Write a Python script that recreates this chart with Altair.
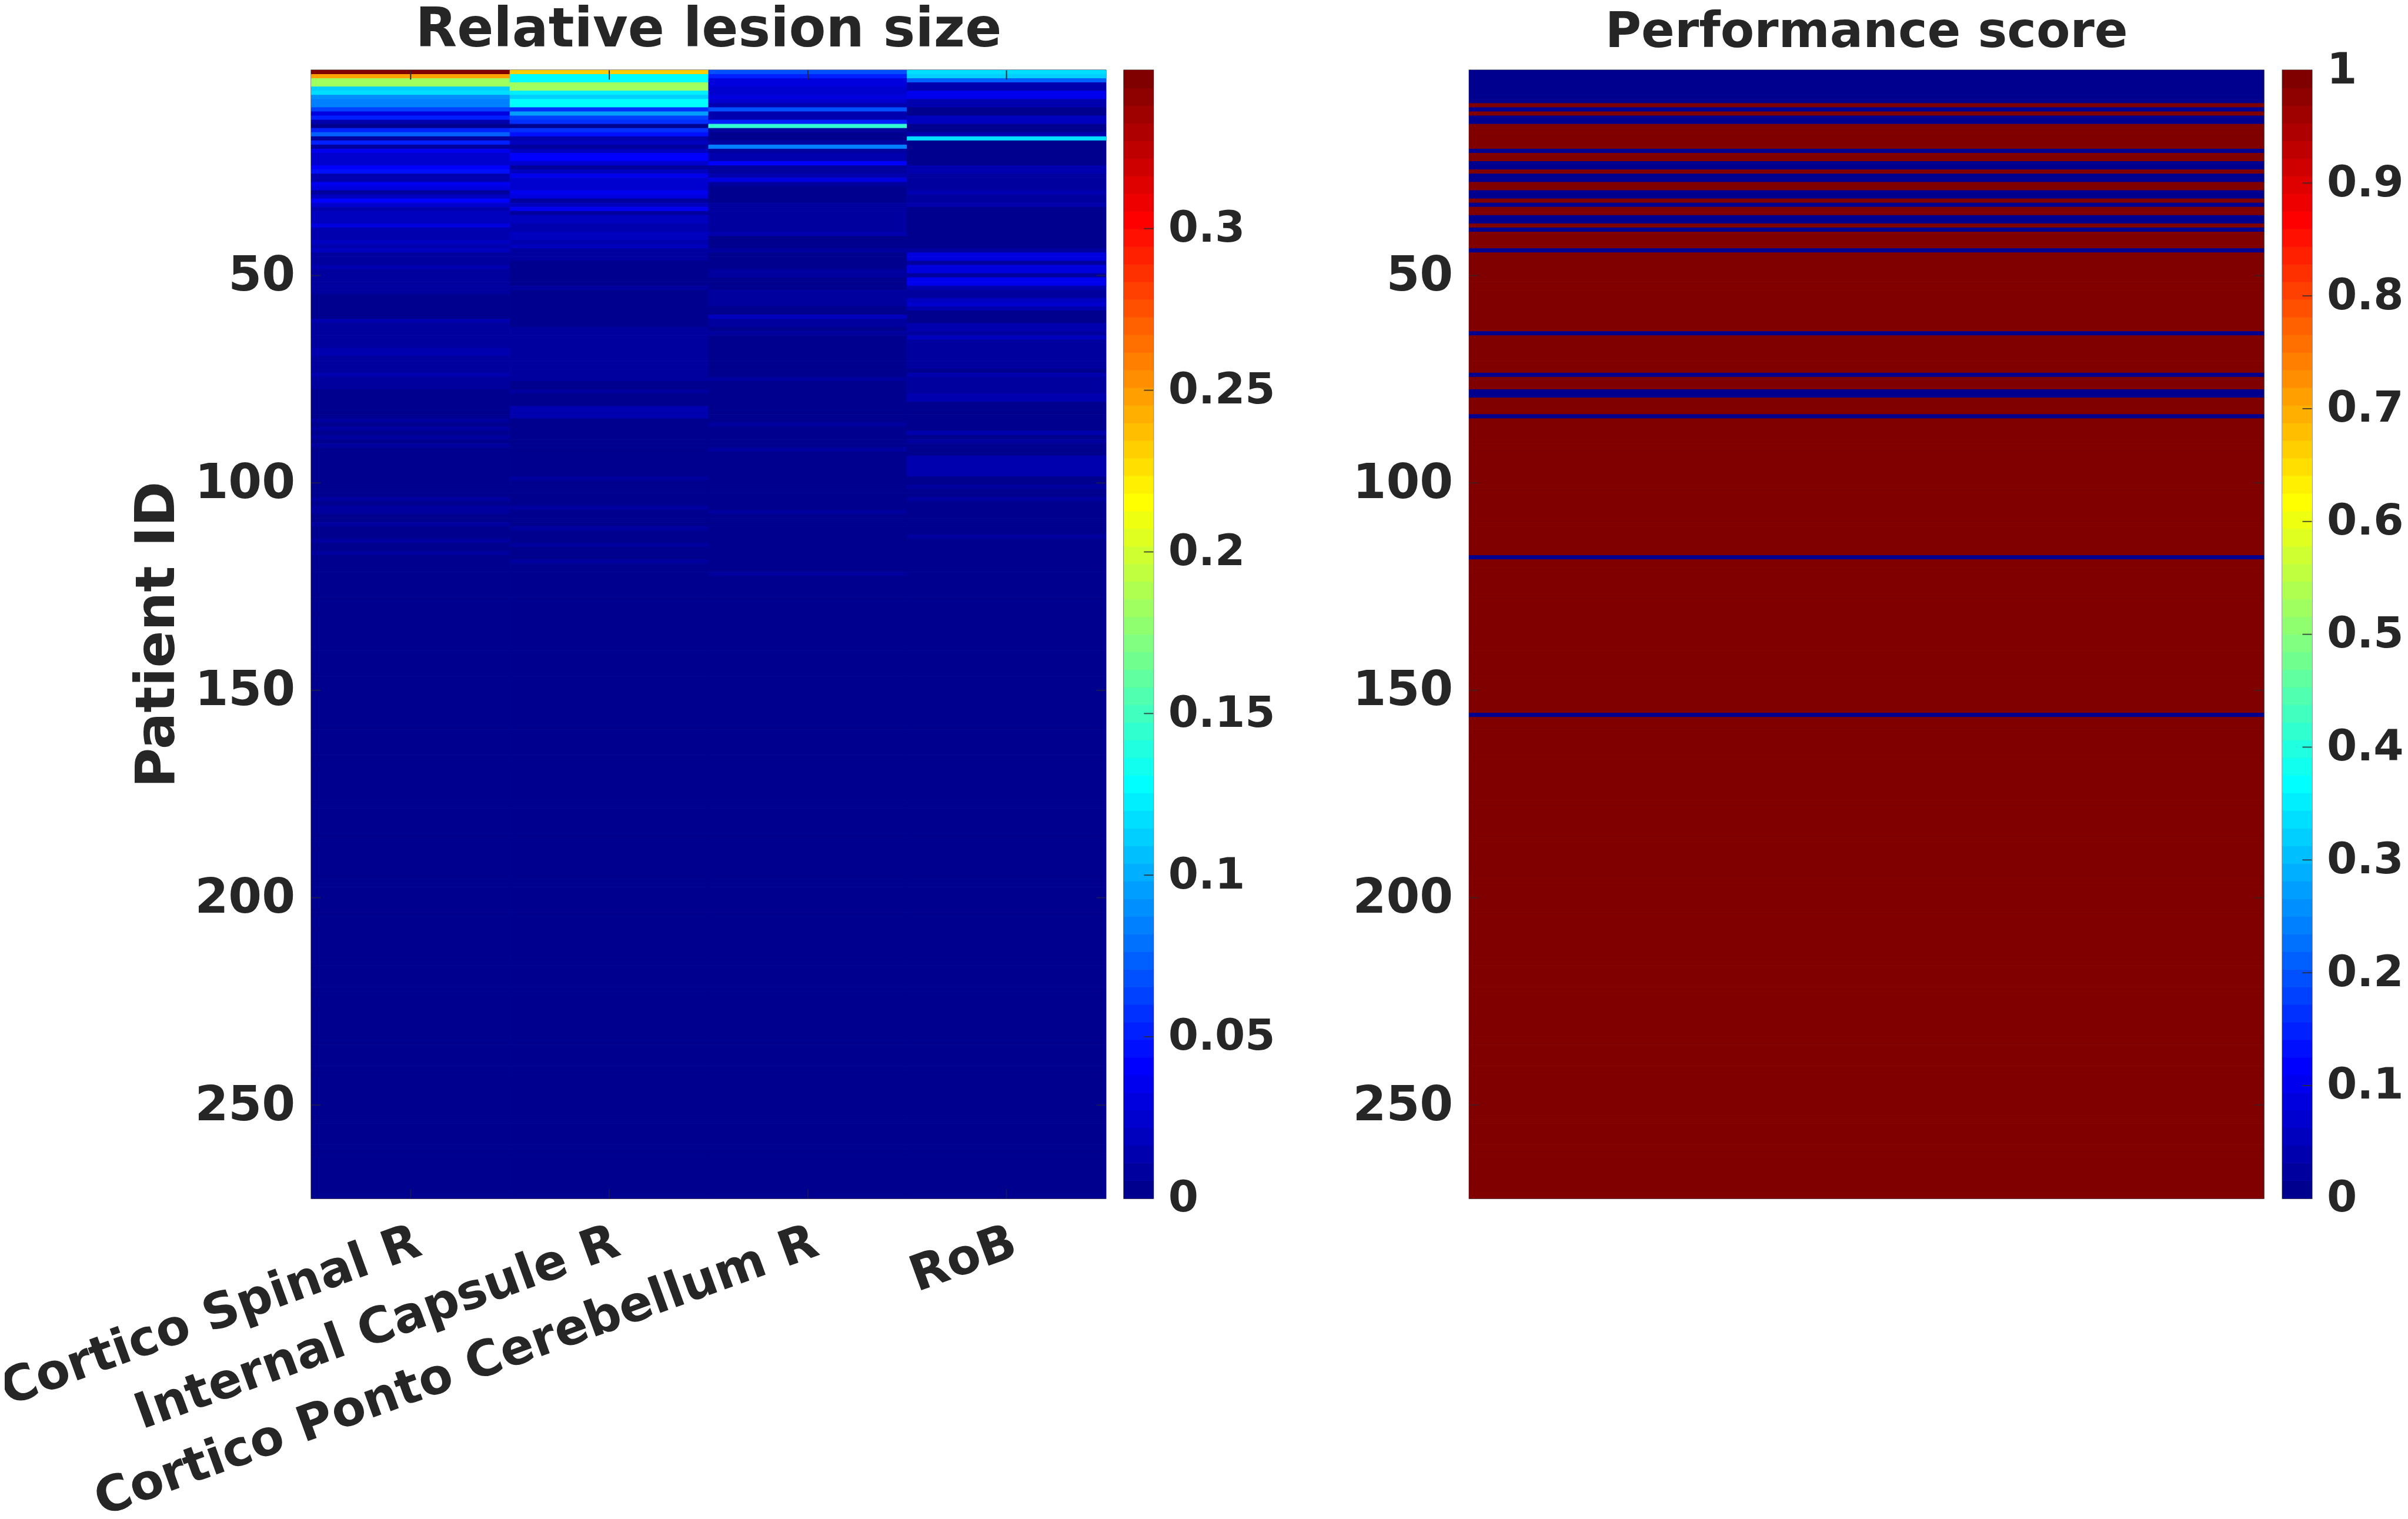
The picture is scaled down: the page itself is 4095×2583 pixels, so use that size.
import altair as alt
import numpy as np
import pandas as pd

FONT = "DejaVu Sans"
INK = "#262626"
EDGE = "#2a2a30"

tracts = ["Cortico Spinal R", "Internal Capsule R", "Cortico Ponto Cerebellum R", "RoB"]
n_patients = 272
lesion_floor = 0.002

# relative lesion size, read row by row from the top, patient 1 onward
cortico_spinal = [
    .345, .249, .18, .18, .112, .119, .09, .087, .082, .06,
    .032, .052, .016, .004, .052, .075, .006, .05, .006, .036,
    .024, .022, .022, .042, .045, .015, .014, .036, .031, .006,
    .02, .042, .022, .012, .018, .018, .017, .03, .011, .012,
    .014, .02, .011, .018, .008, .008, .009, .012, .009, .007,
    .006, .006, .006, .006, .004, .004, .004, .004, .004, .004,
    .011, .01, .009, .008, .009, .008, .009, .011, .012, .01,
    .009, .01, .007, .013, .006, .006, .006, .004, .004, .004,
    .004, .004, .004, .004, .009, .004, .008, .004, .009, .004,
    .007, .004, .004, .004, .004, .004, .004, .004, .004, .004,
    .004, .004, .004, .008, .004, .009, .008, .004, .004, .009,
    .004, .004, .004, .009, .004, .004, .008, .003, .003, .003,
]
internal_capsule = [
    .23, .13, .127, .185, .185, .122, .11, .13, .13, .055,
    .095, .062, .056, .005, .056, .047, .012, .018, .007, .02,
    .04, .042, .024, .008, .02, .036, .025, .025, .025, .038,
    .03, .01, .018, .036, .01, .02, .02, .014, .011, .018,
    .02, .011, .02, .01, .009, .006, .004, .004, .004, .004,
    .004, .004, .008, .004, .004, .004, .004, .004, .004, .004,
    .004, .004, .006, .006, .006, .006, .008, .006, .006, .007,
    .009, .007, .006, .008, .006, .004, .004, .007, .004, .004,
    .004, .012, .012, .012, .004, .004, .004, .004, .004, .004,
    .004, .004, .004, .004, .004, .004, .004, .004, .008, .004,
    .004, .004, .004, .004, .004, .008, .004, .004, .004, .004,
    .008, .004, .004, .004, .009, .004, .004, .004, .009, .003,
]
cortico_ponto = [
    .067, .05, .03, .03, .026, .022, .028, .025, .012, .066,
    .012, .012, .05, .147, .007, .005, .005, .006, .085, .006,
    .016, .012, .04, .008, .01, .012, .028, .006, .005, .005,
    .005, .005, .009, .008, .007, .007, .006, .006, .006, .012,
    .005, .005, .005, .009, .005, .005, .005, .005, .006, .01,
    .005, .005, .005, .008, .009, .009, .006, .005, .005, .018,
    .006, .01, .005, .006, .004, .004, .004, .004, .005, .004,
    .004, .005, .004, .004, .008, .004, .004, .004, .004, .004,
    .004, .004, .004, .004, .004, .008, .004, .004, .004, .004,
    .004, .008, .004, .004, .004, .004, .004, .004, .004, .004,
    .004, .004, .004, .004, .004, .004, .008, .004, .004, .004,
    .004, .004, .004, .004, .004, .004, .004, .004, .004, .004,
    .004, .008,
]
rob = [
    .116, .11, .072, .016, .012, .036, .038, .016, .012, .005,
    .005, .018, .018, .005, .005, .014, .118, .005, .005, .005,
    .005, .005, .005, .012, .012, .006, .006, .006, .006, .011,
    .006, .006, .011, .005, .005, .005, .005, .005, .005, .005,
    .005, .005, .005, .01, .03, .03, .006, .032, .032, .006,
    .033, .033, .012, .007, .007, .02, .022, .012, .005, .005,
    .005, .012, .012, .008, .018, .009, .006, .01, .01, .01,
    .01, .01, .005, .012, .006, .009, .009, .006, .012, .012,
    .004, .004, .004, .004, .004, .004, .004, .013, .005, .01,
    .004, .004, .004, .014, .014, .014, .014, .014, .004, .004,
    .009, .004, .004, .009, .004, .004, .004, .004, .004, .004,
    .004, .004, .008,
]
lesion_columns = [cortico_spinal, internal_capsule, cortico_ponto, rob]

# patients whose performance score is 0, everybody else scores 1
score_zero_ids = [1, 2, 3, 4, 5, 6, 7, 8, 10, 12, 13, 20, 23, 24, 26, 27, 30, 31, 33,
                  36, 37, 39, 44, 64, 74, 78, 79, 84, 118, 156]

lesion_max = 0.349
lesion_ticks = [0, 0.05, 0.1, 0.15, 0.2, 0.25, 0.3]
score_ticks = [0, 0.1, 0.2, 0.3, 0.4, 0.5, 0.6, 0.7, 0.8, 0.9, 1]
patient_ticks = [50, 100, 150, 200, 250]


def jet(n):
    # matlab jet colormap
    out = []
    for i in range(n):
        t = (i + 1) / n
        r = np.clip(min(4 * t - 1.5, 4.5 - 4 * t), 0, 1)
        g = np.clip(min(4 * t - 0.5, 3.5 - 4 * t), 0, 1)
        b = np.clip(min(4 * t + 0.5, 2.5 - 4 * t), 0, 1)
        out.append("#%02x%02x%02x" % (round(r * 255), round(g * 255), round(b * 255)))
    return out


jet64 = jet(64)

rows = []
for name, col in zip(tracts, lesion_columns):
    full = col + [lesion_floor] * (n_patients - len(col))
    for i, v in enumerate(full):
        rows.append({"tract": name, "patient": i + 1, "lo": i + 0.5, "hi": i + 1.5, "value": v})
lesion_df = pd.DataFrame(rows)

score_df = pd.DataFrame({"patient": range(1, n_patients + 1)})
score_df["lo"] = score_df.patient - 0.5
score_df["hi"] = score_df.patient + 0.5
score_df["value"] = [0 if p in score_zero_ids else 1 for p in score_df.patient]
score_df["panel"] = "score"

PANEL_W = 1355
PANEL_H = 1924
BAR_W = 50
TICK = 16

text = dict(labelFont=FONT, labelFontWeight="bold", labelColor=INK, titleFont=FONT,
            titleFontWeight="bold", titleColor=INK)


def title(s, size):
    return alt.TitleParams(s, font=FONT, fontSize=size, fontWeight="bold", color=INK,
                           anchor="middle", offset=21)


def colored(field, domain):
    scale = alt.Scale(type="quantize", domain=domain, range=jet64)
    return dict(color=alt.Color(field, scale=scale, legend=None),
                stroke=alt.Stroke(field, scale=scale, legend=None))


patient_scale = alt.Scale(domain=[0.5, n_patients + 0.5], reverse=True, nice=False)
band_scale = alt.Scale(paddingInner=0, paddingOuter=0)

left_y_axis = alt.Axis(values=patient_ticks, title="Patient ID", titleFontSize=93, titlePadding=15,
                       tickSize=0, domain=False, grid=False, labelFontSize=82, labelPadding=28, **text)
right_y_axis = alt.Axis(values=patient_ticks, title=None, tickSize=0, domain=False, grid=False,
                        labelFontSize=82, labelPadding=28, **text)
x_axis = alt.Axis(title=None, tickSize=0, domain=False, grid=False, labelAngle=340, labelAlign="right",
                  labelBaseline="top", labelFontSize=84, labelPadding=33, labelLimit=0, **text)


def side_ticks(width, axis):
    tick_df = pd.DataFrame({"patient": patient_ticks})
    y = alt.Y("patient:Q", scale=patient_scale, axis=axis)
    left = alt.Chart(tick_df).mark_rule(color=EDGE, strokeWidth=2, opacity=0.6).encode(
        y=y, x=alt.value(0), x2=alt.value(TICK))
    right = alt.Chart(tick_df).mark_rule(color=EDGE, strokeWidth=2, opacity=0.6).encode(
        y=y, x=alt.value(width - TICK), x2=alt.value(width))
    return [left, right]


x_band = alt.X("tract:N", sort=tracts, scale=band_scale, axis=x_axis)

heat_lesion = alt.Chart(lesion_df).mark_rect(strokeWidth=1).encode(
    x=x_band,
    y=alt.Y("lo:Q", scale=patient_scale, axis=left_y_axis),
    y2="hi:Q",
    **colored("value:Q", [0, lesion_max]),
)

x_tick_df = pd.DataFrame({"tract": tracts, "top0": 0.5, "top1": 2.75,
                          "bot0": n_patients + 0.5 - 2.25, "bot1": n_patients + 0.5})
x_ticks_top = alt.Chart(x_tick_df).mark_rule(color=EDGE, strokeWidth=2).encode(
    x=x_band, y=alt.Y("top0:Q", scale=patient_scale, axis=left_y_axis), y2="top1:Q")
x_ticks_bot = alt.Chart(x_tick_df).mark_rule(color=EDGE, strokeWidth=2, opacity=0.5).encode(
    x=x_band, y=alt.Y("bot0:Q", scale=patient_scale, axis=left_y_axis), y2="bot1:Q")

left_panel = alt.layer(heat_lesion, x_ticks_top, x_ticks_bot, *side_ticks(PANEL_W, left_y_axis)).properties(
    width=PANEL_W, height=PANEL_H, title=title("Relative lesion size", 92))

heat_score = alt.Chart(score_df).mark_rect(strokeWidth=1).encode(
    x=alt.X("panel:N", axis=None, scale=band_scale),
    y=alt.Y("lo:Q", scale=patient_scale, axis=right_y_axis),
    y2="hi:Q",
    **colored("value:Q", [0, 1]),
)
right_panel = alt.layer(heat_score, *side_ticks(PANEL_W, right_y_axis)).properties(
    width=PANEL_W, height=PANEL_H, title=title("Performance score", 84))


def colorbar(vmax, ticks):
    edges = np.linspace(0, vmax, 65)
    bins = pd.DataFrame({"lo": edges[:-1], "hi": edges[1:], "mid": (edges[:-1] + edges[1:]) / 2, "panel": "bar"})
    yscale = alt.Scale(domain=[0, vmax], nice=False, zero=False)
    axis = alt.Axis(orient="right", values=ticks, format="~g", title=None, tickSize=0, domain=False,
                    grid=False, labelFontSize=74, labelPadding=25, labelFlush=False, labelLimit=0, **text)
    bar = alt.Chart(bins).mark_rect(strokeWidth=1).encode(
        x=alt.X("panel:N", axis=None, scale=band_scale),
        y=alt.Y("lo:Q", scale=yscale, axis=axis),
        y2="hi:Q",
        **colored("mid:Q", [0, vmax]),
    )
    ticks_df = pd.DataFrame({"v": ticks[1:-1] if vmax == 1 else ticks[1:]})
    tick_marks = alt.Chart(ticks_df).mark_rule(color=EDGE, strokeWidth=2, opacity=0.8).encode(
        y=alt.Y("v:Q", scale=yscale, axis=axis), x=alt.value(BAR_W - TICK), x2=alt.value(BAR_W))
    return alt.layer(bar, tick_marks).properties(width=BAR_W, height=PANEL_H)


left_group = alt.hconcat(left_panel, colorbar(lesion_max, lesion_ticks), spacing=27)
right_group = alt.hconcat(right_panel, colorbar(1, score_ticks), spacing=28)

chart = alt.hconcat(left_group, right_group, spacing=129).resolve_scale(
    color="independent", stroke="independent"
).properties(padding={"left": -20, "top": -8, "right": -2, "bottom": -15}, background="white").configure_view(
    stroke=EDGE, strokeWidth=2
)

chart.save("out.html", embed_options={"renderer": "svg", "actions": False})
